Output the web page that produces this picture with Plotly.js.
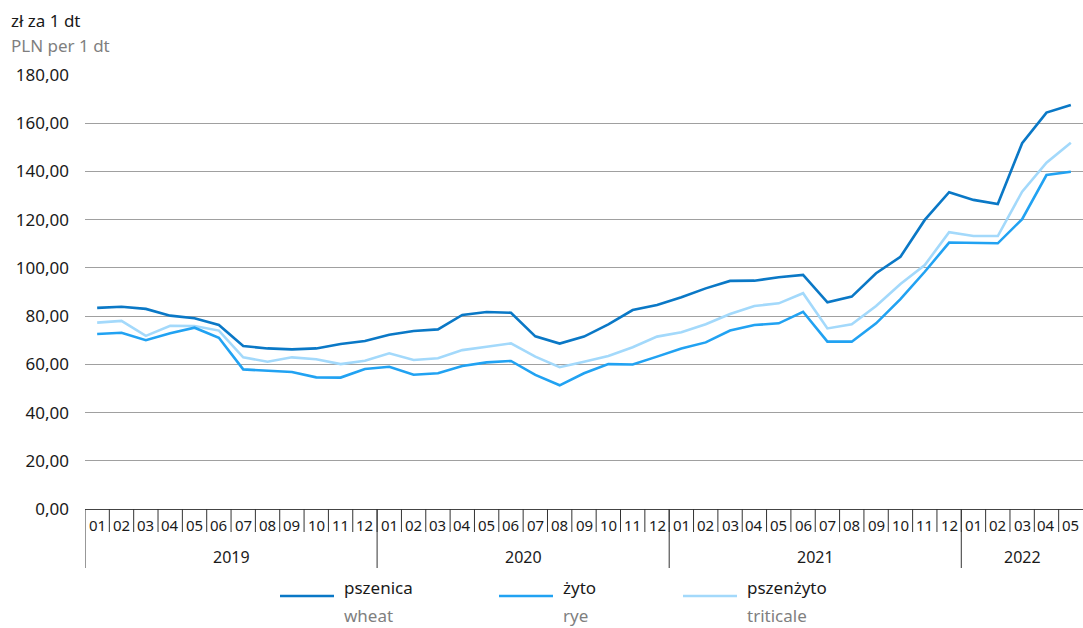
<!DOCTYPE html>
<html>
<head>
<meta charset="utf-8">
<script src="https://cdn.plot.ly/plotly-3.0.1.min.js"></script>
<style>html,body{margin:0;padding:0;background:#fff;}#chart{width:1083px;height:628px;}</style>
</head>
<body>
<div id="chart"></div>
<script>
// ---- data ----
const yearLabels = ['2019', '2020', '2021', '2022'];
const monthsPerYear = [12, 12, 12, 5];
const monthLabels = ['01','02','03','04','05','06','07','08','09','10','11','12'];

const seriesNamesPL = ['pszenica', 'żyto', 'pszenżyto'];
const seriesNamesEN = ['wheat', 'rye', 'triticale'];

const wheat = [83.4,83.9,83.0,80.2,79.1,76.3,67.6,66.6,66.2,66.6,68.4,69.7,
               72.3,73.8,74.5,80.5,81.7,81.4,71.6,68.6,71.5,76.6,82.5,84.6,
               87.8,91.5,94.6,94.7,96.1,97.1,85.7,88.1,97.8,104.6,119.9,131.4,
               128.2,126.5,151.7,164.4,167.6];
const rye = [72.6,73.1,70.0,72.9,75.2,71.0,57.9,57.2,56.8,54.6,54.5,58.1,
             59.0,55.7,56.3,59.3,60.8,61.4,55.6,51.3,56.3,60.1,59.9,63.2,
             66.6,69.1,74.0,76.3,77.0,81.8,69.4,69.4,77.0,87.0,98.4,110.5,
             110.5,110.2,120.2,138.5,139.9];
const triticale = [77.3,78.0,71.8,76.0,75.9,74.0,62.9,61.1,62.9,62.1,60.1,61.5,
                   64.6,61.8,62.5,65.9,67.3,68.7,63.2,58.8,61.1,63.5,67.1,71.5,
                   73.3,76.6,80.9,84.2,85.3,89.5,74.9,76.6,84.2,93.3,101.2,114.8,
                   113.2,113.2,131.6,143.6,151.9];

const unitPL = 'zł za 1 dt';
const unitEN = 'PLN per 1 dt';

// ---- styles ----
const colors = ['#0a78c6', '#21a2f2', '#a3d9fb'];
const FONT = 'Noto Sans, Open Sans, sans-serif';
const W = 1083, H = 628;
const M = {l: 85, r: 0, t: 75, b: 119};
const plotH = H - M.t - M.b;
const plotW = W - M.l - M.r;
const py = p => (H - M.b - p) / plotH;   // pixel y -> paper y
const px = p => (p - M.l) / plotW;       // pixel x -> paper x

// ---- build periods ----
const periods = [], periodMonth = [];
yearLabels.forEach((y, yi) => {
  for (let m = 0; m < monthsPerYear[yi]; m++) {
    periods.push(y + '-' + monthLabels[m]);
    periodMonth.push(monthLabels[m]);
  }
});

const values = [wheat, rye, triticale];
const drawOrder = [2, 1, 0];
const traces = drawOrder.map(i => ({
  type: 'scatter', mode: 'lines',
  x: periods, y: values[i],
  name: seriesNamesPL[i],
  line: {color: colors[i], width: 2.6},
  showlegend: false, hoverinfo: 'skip'
}));

const shapes = [];
const annotations = [];

// month separators and labels
periods.forEach((p, i) => {
  if (i > 0) {
    shapes.push({type: 'line', xref: 'x', yref: 'paper', x0: i - 0.5, x1: i - 0.5,
      y0: 0, y1: py(532), line: {color: '#333', width: 1}});
  }
  annotations.push({xref: 'x', yref: 'paper', x: i, y: py(525), text: periodMonth[i],
    showarrow: false, xanchor: 'center', yanchor: 'middle',
    font: {family: FONT, size: 15, color: '#1a1a1a'}});
});
// year dividers and labels
let start = 0;
yearLabels.forEach((y, yi) => {
  const n = monthsPerYear[yi];
  shapes.push({type: 'line', xref: 'x', yref: 'paper', x0: start - 0.5, x1: start - 0.5,
    y0: 0, y1: py(568), line: {color: '#333', width: 1}});
  annotations.push({xref: 'x', yref: 'paper', x: start + (n - 1) / 2, y: py(557), text: y,
    showarrow: false, xanchor: 'center', yanchor: 'middle',
    font: {family: FONT, size: 16, color: '#1a1a1a'}});
  start += n;
});

// legend (manual)
const legLineX = [280, 499, 683];
seriesNamesPL.forEach((n, i) => {
  shapes.push({type: 'line', xref: 'paper', yref: 'paper',
    x0: px(legLineX[i]), x1: px(legLineX[i] + 54), y0: py(596), y1: py(596),
    line: {color: colors[i], width: 2.6}});
  annotations.push({xref: 'paper', yref: 'paper', x: px(legLineX[i] + 62), y: py(587),
    text: n, showarrow: false, xanchor: 'left', yanchor: 'middle',
    font: {family: FONT, size: 17, color: '#1a1a1a'}});
  annotations.push({xref: 'paper', yref: 'paper', x: px(legLineX[i] + 62), y: py(615),
    text: seriesNamesEN[i], showarrow: false, xanchor: 'left', yanchor: 'middle',
    font: {family: FONT, size: 17, color: '#7f7f7f'}});
});

// units
annotations.push({xref: 'paper', yref: 'paper', x: px(9), y: py(20), text: unitPL,
  showarrow: false, xanchor: 'left', yanchor: 'middle',
  font: {family: FONT, size: 17, color: '#1a1a1a'}});
annotations.push({xref: 'paper', yref: 'paper', x: px(9), y: py(46), text: unitEN,
  showarrow: false, xanchor: 'left', yanchor: 'middle',
  font: {family: FONT, size: 17, color: '#7f7f7f'}});

const layout = {
  width: W, height: H,
  margin: M,
  paper_bgcolor: '#fff', plot_bgcolor: '#fff',
  separators: ', ',
  showlegend: false,
  xaxis: {
    type: 'category', range: [-0.5, periods.length - 0.5],
    showticklabels: false, showgrid: false, zeroline: false, ticks: '',
    showline: true, linecolor: '#444', linewidth: 1, fixedrange: true
  },
  yaxis: {
    range: [0, 180], dtick: 20, tick0: 0, tickformat: '.2f',
    showgrid: true, gridcolor: '#a0a0a0', gridwidth: 1,
    zeroline: false, showline: false, ticks: '',
    ticklabelstandoff: 15,
    tickfont: {family: FONT, size: 17, color: '#1a1a1a'}, fixedrange: true
  },
  shapes: shapes,
  annotations: annotations
};

Plotly.newPlot('chart', traces, layout, {staticPlot: true, displayModeBar: false});
</script>
</body>
</html>
